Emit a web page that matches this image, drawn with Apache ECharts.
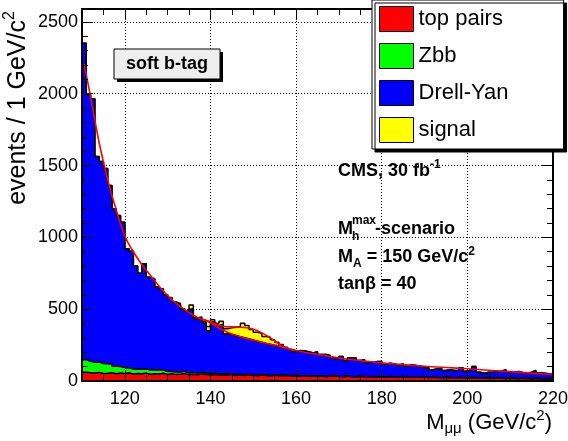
<!DOCTYPE html>
<html>
<head>
<meta charset="utf-8">
<script src="https://cdn.jsdelivr.net/npm/echarts@6/dist/echarts.min.js"></script>
<style>
html, body { margin: 0; padding: 0; background: #fff; }
#chart { width: 568px; height: 441px; }
</style>
</head>
<body>
<div id="chart"></div>
<script>
// 1 GeV bins from 110 to 220, one value per bin
var firstBin = 110;
var lastEdge = 220;

var topPairs = [61,58,55,60,52,54,57,50,56,53,
                57,48,52,50,55,47,51,49,54,46,
                50,45,48,52,44,47,43,49,45,42,
                46,40,44,41,45,39,42,38,43,40,
                37,41,38,35,40,36,39,34,37,35,
                33,36,32,35,31,34,30,33,36,31,
                29,33,30,28,32,29,31,27,30,28,
                26,30,27,25,29,26,24,28,25,27,
                23,26,24,22,25,23,21,24,22,20,
                23,21,19,22,20,18,21,19,17,20,
                18,16,19,17,15,18,16,14,17,15];

var zbb = [87,80,76,72,70,66,60,52,45,40,
           34,36,30,32,28,30,25,27,22,20,
           16,18,14,15,12,13,10,12,9,10,
           8,9,7,8,6,7,5,6,5,4,
           5,4,4,3,4,3,3,4,2,3,
           2,3,2,2,2,2,2,2,2,2,
           2,2,2,2,2,2,1,1,1,1,
           1,1,1,1,1,1,1,1,1,1,
           1,1,1,1,1,1,1,1,1,1,
           1,1,1,1,1,1,1,1,1,1,
           1,1,1,1,1,1,1,1,1,1];

var drellYan = [2204,1857,1834,1431,1406,1360,1244,1097,1051,1013,
                829,820,718,669,733,646,634,579,564,534,
                513,483,473,430,426,442,379,374,349,298,
                358,337,343,280,271,269,261,258,246,241,
                235,225,220,218,205,204,193,189,175,163,
                174,169,170,158,170,148,152,143,122,117,
                139,107,128,130,109,117,96,100,105,107,
                90,93,90,82,90,76,88,79,77,64,
                68,51,60,66,47,54,51,48,69,47,
                54,79,41,31,40,42,44,48,60,40,
                42,49,37,36,45,54,40,39,32,29];

var signal = [0,0,0,0,0,0,0,0,0,0,
              0,0,0,0,0,0,0,0,0,0,
              3,4,5,6,6,28,8,10,12,30,
              14,16,22,34,48,60,72,100,93,74,
              63,63,48,49,38,27,19,8,5,4,
              3,2,0,0,0,0,0,0,0,0,
              0,0,0,0,0,0,0,0,0,0,
              0,0,0,0,0,0,0,0,0,0,
              0,0,0,0,0,0,0,0,0,0,
              0,0,0,0,0,0,0,0,0,0,
              0,0,0,0,0,0,0,0,0,0];

// fitted curves: [mass, events]
var bkgFit = [[110.5,2205],[112,1980],[114,1660],[116,1400],[118,1190],[120,1010],
              [122,900],[124,810],[126,735],[128,660],[130,595],[132,540],[134,497],
              [136,458],[138,430],[140,405],[142,368],[144,340],[146,318],[148,300],
              [150,285],[152,270],[154,256],[156,242],[158,226],[160,212],[163,195],
              [166,180],[170,160],[175,142],[180,126],[185,114],[190,103],[195,94],
              [200,85],[205,75],[210,65],[215,55],[220,45]];
var sigFit = [[138,431],[140,412],[142,388],[144,377],[146,376],[148,372],[150,360],
              [152,335],[154,300],[156,258],[158,228],[160,212]];

var yTicks = { min: 0, max: 2590, step: 500 };

var FONT = 'Liberation Sans';

// stack by hand, THStack style: draw the highest sum first
function addUp(lists) {
    var out = [];
    for (var i = 0; i < lists[0].length; i++) {
        var s = 0;
        for (var j = 0; j < lists.length; j++) s += lists[j][i];
        out.push(s);
    }
    return out;
}
function steps(vals) {
    var d = [];
    for (var i = 0; i < vals.length; i++) d.push([firstBin + i, vals[i]]);
    d.push([lastEdge, vals[vals.length - 1]]);
    return d;
}

var sumTop = topPairs;
var sumZbb = addUp([topPairs, zbb]);
var sumDY = addUp([topPairs, zbb, drellYan]);
var sumAll = addUp([topPairs, zbb, drellYan, signal]);

function histo(name, vals, color) {
    return {
        name: name, type: 'line', step: 'end', data: steps(vals),
        symbol: 'none', showSymbol: false, z: 2,
        itemStyle: { color: color },
        lineStyle: { color: '#000', width: 1.5 },
        areaStyle: { color: color, opacity: 1 }
    };
}
function fit(points) {
    return {
        type: 'line', data: points, smooth: true, symbol: 'none', showSymbol: false,
        z: 5, lineStyle: { color: '#ff0000', width: 1.6 }, silent: true
    };
}

var tickLine = { color: '#000', width: 1 };
function plain(v) { return String(v); }
function frameX(pos, labels) {
    return {
        type: 'value', min: firstBin, max: lastEdge, position: pos, z: 10,
        axisLine: { show: true, onZero: false, lineStyle: { color: '#000', width: 2 } },
        axisTick: { show: true, inside: true, length: 11, lineStyle: tickLine },
        minorTick: { show: true, splitNumber: 4, length: 6, lineStyle: tickLine },
        axisLabel: { show: labels, showMinLabel: false, color: '#000', fontSize: 18,
                     fontFamily: FONT, margin: 9, formatter: plain },
        splitLine: { show: false }
    };
}
function frameY(pos, labels) {
    return {
        type: 'value', min: yTicks.min, max: yTicks.max, interval: yTicks.step,
        position: pos, z: 10,
        axisLine: { show: true, onZero: false, lineStyle: { color: '#000', width: 2 } },
        axisTick: { show: true, inside: true, length: 11, lineStyle: tickLine },
        minorTick: { show: true, splitNumber: 5, length: 6, lineStyle: tickLine },
        axisLabel: { show: labels, showMaxLabel: false, color: '#000', fontSize: 18,
                     fontFamily: FONT, margin: 4, formatter: plain },
        splitLine: { show: false }
    };
}
var dots = { show: true, lineStyle: { color: '#000', width: 1, type: [1, 2] } };

var myChart = echarts.init(document.getElementById('chart'), null, { renderer: 'canvas' });

var option = {
    animation: false,
    textStyle: { fontFamily: FONT },
    grid: { left: 82, right: 15, top: 9, bottom: 60, outerBoundsMode: 'none' },
    xAxis: [
        frameX('bottom', true),
        frameX('top', false),
        { type: 'value', min: firstBin, max: lastEdge, position: 'bottom', z: 0,
          axisLine: { show: false }, axisTick: { show: false }, axisLabel: { show: false },
          splitLine: dots }
    ],
    yAxis: [
        frameY('left', true),
        frameY('right', false),
        { type: 'value', min: yTicks.min, max: yTicks.max, interval: yTicks.step,
          position: 'left', z: 0,
          axisLine: { show: false }, axisTick: { show: false }, axisLabel: { show: false },
          splitLine: dots }
    ],
    legend: {
        orient: 'vertical', left: 372, top: 0, z: 20,
        padding: [6, 55, 6, 7], itemWidth: 34, itemHeight: 25, itemGap: 11,
        icon: 'rect', selectedMode: false,
        backgroundColor: '#fff', borderColor: '#000', borderWidth: 1,
        shadowColor: '#000', shadowBlur: 0, shadowOffsetX: 3, shadowOffsetY: 3,
        textStyle: { color: '#000', fontSize: 22, fontFamily: FONT },
        data: [
            { name: 'top pairs', itemStyle: { color: '#ff0000', borderColor: '#000', borderWidth: 1 } },
            { name: 'Zbb', itemStyle: { color: '#00ff00', borderColor: '#000', borderWidth: 1 } },
            { name: 'Drell-Yan', itemStyle: { color: '#0000ff', borderColor: '#000', borderWidth: 1 } },
            { name: 'signal', itemStyle: { color: '#ffff00', borderColor: '#000', borderWidth: 1 } }
        ]
    },
    graphic: [
        { type: 'rect', z: 30, shape: { x: 117, y: 52, width: 106, height: 30 }, style: { fill: '#000' } },
        { type: 'rect', z: 31, shape: { x: 114, y: 49, width: 106, height: 30 },
          style: { fill: '#eeeeee', stroke: '#000', lineWidth: 1 } },
        { type: 'text', z: 32, x: 167, y: 64.5,
          style: { text: 'soft b-tag', font: 'bold 18px ' + FONT, fill: '#000',
                   align: 'center', verticalAlign: 'middle' } },
        { type: 'text', z: 32, x: 338, y: 171,
          style: { text: '{m|CMS, 30 fb}{s|-1}', align: 'left', verticalAlign: 'middle',
                   rich: { m: { fontFamily: FONT, fontWeight: 'bold', fontSize: 18, lineHeight: 24, fill: '#000' },
                           s: { fontFamily: FONT, fontWeight: 'bold', fontSize: 12, lineHeight: 12, verticalAlign: 'top', fill: '#000' } } } },
        { type: 'text', z: 32, x: 338, y: 229,
          style: { text: 'M', font: 'bold 18px ' + FONT, fill: '#000', align: 'left', verticalAlign: 'middle' } },
        { type: 'text', z: 32, x: 352, y: 221,
          style: { text: 'max', font: 'bold 12px ' + FONT, fill: '#000', align: 'left', verticalAlign: 'middle' } },
        { type: 'text', z: 32, x: 352, y: 236.5,
          style: { text: 'h', font: 'bold 12px ' + FONT, fill: '#000', align: 'left', verticalAlign: 'middle' } },
        { type: 'text', z: 32, x: 375, y: 229,
          style: { text: '-scenario', font: 'bold 18px ' + FONT, fill: '#000', align: 'left', verticalAlign: 'middle' } },
        { type: 'text', z: 32, x: 338, y: 257.5,
          style: { text: '{m|M}{b|A}{m| = 150 GeV/c}{s|2}', align: 'left', verticalAlign: 'middle',
                   rich: { m: { fontFamily: FONT, fontWeight: 'bold', fontSize: 18, lineHeight: 24, fill: '#000' },
                           b: { fontFamily: FONT, fontWeight: 'bold', fontSize: 12, lineHeight: 12, verticalAlign: 'bottom', fill: '#000' },
                           s: { fontFamily: FONT, fontWeight: 'bold', fontSize: 12, lineHeight: 12, verticalAlign: 'top', fill: '#000' } } } },
        { type: 'text', z: 32, x: 338, y: 284,
          style: { text: 'tan\u03b2 = 40', font: 'bold 18px ' + FONT, fill: '#000', align: 'left', verticalAlign: 'middle' } },
        { type: 'text', z: 32, x: 552, y: 422.5,
          style: { text: '{m|M}{b|\u03bc\u03bc}{m| (GeV/c}{s|2}{m|)}', align: 'right', verticalAlign: 'middle',
                   rich: { m: { fontFamily: FONT, fontSize: 22, lineHeight: 28, fill: '#000' },
                           b: { fontFamily: FONT, fontSize: 15, lineHeight: 14, verticalAlign: 'bottom', fill: '#000' },
                           s: { fontFamily: FONT, fontSize: 15, lineHeight: 18, verticalAlign: 'top', fill: '#000' } } } },
        { type: 'text', z: 32, x: 18, y: 108, rotation: Math.PI / 2,
          style: { text: '{m|events / 1 GeV/c}{s|2}', align: 'center', verticalAlign: 'middle',
                   rich: { m: { fontFamily: FONT, fontSize: 25, lineHeight: 32, fill: '#000' },
                           s: { fontFamily: FONT, fontSize: 16, lineHeight: 18, verticalAlign: 'top', fill: '#000' } } } }
    ],
    series: [
        histo('signal', sumAll, '#ffff00'),
        histo('Drell-Yan', sumDY, '#0000ff'),
        histo('Zbb', sumZbb, '#00ff00'),
        histo('top pairs', sumTop, '#ff0000'),
        fit(bkgFit),
        fit(sigFit)
    ]
};

myChart.setOption(option);
</script>
</body>
</html>
